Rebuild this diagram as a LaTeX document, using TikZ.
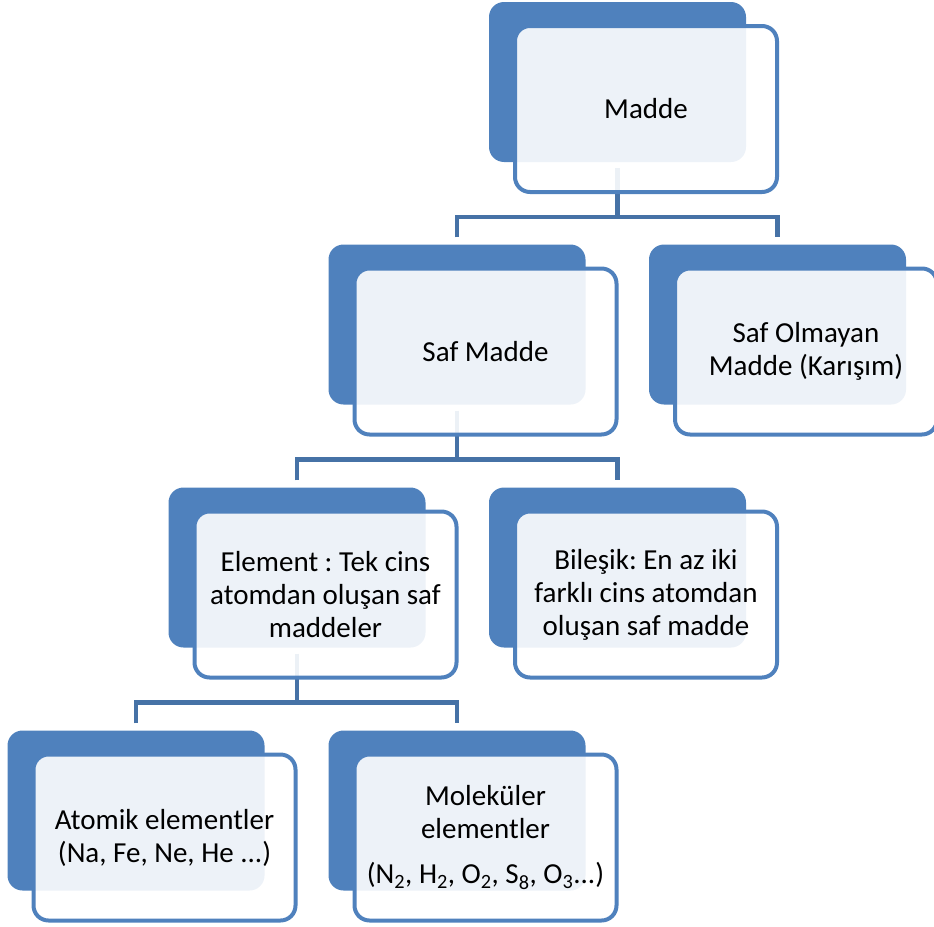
\documentclass[tikz,border=0pt]{standalone}
\usepackage{fontspec}
\setmainfont{Carlito}
\usepackage{tikz}
\usetikzlibrary{calc,positioning}
\frenchspacing
\definecolor{boxblue}{HTML}{4F81BD}
\definecolor{linkblue}{HTML}{4672A6}
\tikzstyle{back}=[fill=boxblue,draw=none,rounded corners=15pt,
  minimum width=257pt,minimum height=160pt,inner sep=0pt]
\tikzstyle{front}=[fill=white,fill opacity=0.9,text opacity=1,draw=boxblue,
  line width=4pt,rounded corners=15pt,minimum width=262pt,minimum height=166pt,
  inner sep=0pt,align=center,font=\fontsize{29}{33}\selectfont]
\tikzstyle{link}=[draw=linkblue,line width=4.5pt]

\begin{document}
\begin{tikzpicture}[x=1pt,y=-1pt]
        \useasboundingbox (0,0) rectangle (934,926);

        % Back boxes:
        \node (madde-bk) [back] at (617.5,82) {};
        \node (saf-bk) [back] at (457,324.5) {};
        \node (karisim-bk) [back] at (777.5,324.5) {};
        \node (element-bk) [back] at (297,567.5) {};
        \node (bilesik-bk) [back] at (617.5,567.5) {};
        \node (atomik-bk) [back] at (136,810.5) {};
        \node (molekul-bk) [back] at (457,810.5) {};

        % Connectors:
        \coordinate (bus1) at ([yshift=-55pt]madde-bk.south);
        \coordinate (bus2) at ([yshift=-55pt]saf-bk.south);
        \coordinate (bus3) at ([yshift=-55pt]element-bk.south);
        \draw[link] ([yshift=-6pt]madde-bk.south) -- (bus1);
        \draw[link] ([yshift=7pt]saf-bk.north) |- (bus1) -| ([yshift=7pt]karisim-bk.north);
        \draw[link] ([yshift=-6pt]saf-bk.south) -- (bus2);
        \draw[link] ([yshift=7pt]element-bk.north) |- (bus2) -| ([yshift=7pt]bilesik-bk.north);
        \draw[link] ([yshift=-6pt]element-bk.south) -- (bus3);
        \draw[link] ([yshift=7pt]atomik-bk.north) |- (bus3) -| ([yshift=7pt]molekul-bk.north);

        % First line:
        \node (madde) [front] at ($(madde-bk)+(28.5,27)$) {Madde};
        % Second line:
        \node (saf) [front] at ($(saf-bk)+(28.5,27)$) {Saf Madde};
        \node (karisim) [front] at ($(karisim-bk)+(28.5,27)$) {Saf Olmayan\\Madde (Karışım)};
        % Third line:
        \node (element) [front] at ($(element-bk)+(28.5,27)$)
          {Element : Tek cins\\atomdan oluşan saf\\maddeler};
        \node (bilesik) [front] at ($(bilesik-bk)+(28.5,27)$)
          {Bileşik: En az iki\\farklı cins atomdan\\oluşan saf madde};
        % Fourth line:
        \node (atomik) [front] at ($(atomik-bk)+(28.5,27)$)
          {Atomik elementler\\(Na, Fe, Ne, He ...)};
        \node (molekul) [front] at ($(molekul-bk)+(28.5,27)$)
          {Moleküler\\elementler\\[12pt](N\textsubscript{2}, H\textsubscript{2}, O\textsubscript{2}, S\textsubscript{8}, O\textsubscript{3}...)};
      \end{tikzpicture}
\end{document}
